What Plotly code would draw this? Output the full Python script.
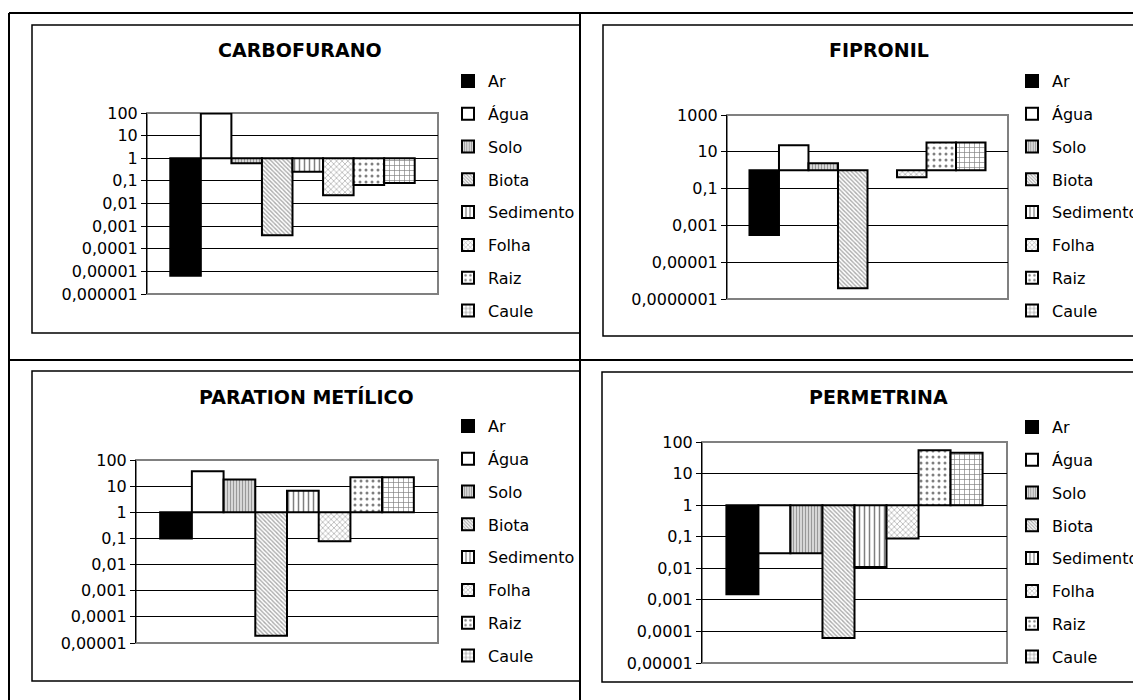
import plotly.graph_objects as go

# Compartimentos ambientais (séries) e concentrações relativas
compartimentos = ["Ar", "Água", "Solo", "Biota", "Sedimento", "Folha", "Raiz", "Caule"]

carbofurano = [6.4e-6, 95, 0.6, 4e-4, 0.25, 0.023, 0.065, 0.08]
fipronil = [3e-4, 23, 2.4, 3.8e-7, None, 0.42, 32, 32]
paration = [0.1, 37, 18, 1.9e-5, 6.6, 0.078, 22, 22]
permetrina = [1.5e-3, 0.03, 0.03, 6.2e-5, 0.011, 0.088, 55, 46]

titulos = ["CARBOFURANO", "FIPRONIL", "PARATION METÍLICO", "PERMETRINA"]

ticks_carbofurano = [100, 10, 1, 0.1, 0.01, 0.001, 0.0001, 0.00001, 0.000001]
labels_carbofurano = ["100", "10", "1", "0,1", "0,01", "0,001", "0,0001", "0,00001", "0,000001"]
ticks_fipronil = [1000, 10, 0.1, 0.001, 0.00001, 0.0000001]
labels_fipronil = ["1000", "10", "0,1", "0,001", "0,00001", "0,0000001"]
ticks_paration = [100, 10, 1, 0.1, 0.01, 0.001, 0.0001, 0.00001]
labels_paration = ["100", "10", "1", "0,1", "0,01", "0,001", "0,0001", "0,00001"]
ticks_permetrina = [100, 10, 1, 0.1, 0.01, 0.001, 0.0001, 0.00001]
labels_permetrina = ["100", "10", "1", "0,1", "0,01", "0,001", "0,0001", "0,00001"]

# a página html tem margem de 8px no body; a figura ocupa o resto da janela 1141x700
OFF = 8
W, H = 1141 - OFF, 700 - OFF
FONT = "DejaVu Sans"


def fx(p):
    return (p - OFF) / W


def fy(p):
    return 1 - (p - OFF) / H


# preenchimentos em preto e branco, como no Excel
padroes = [
    dict(color="black", pattern=None),
    dict(color="white", pattern=None),
    dict(color="white", pattern=dict(shape="|", size=3, solidity=0.6, fgcolor="#333333", bgcolor="white")),
    dict(color="white", pattern=dict(shape="\\", size=3, solidity=0.45, fgcolor="#555555", bgcolor="white")),
    dict(color="white", pattern=dict(shape="|", size=5, solidity=0.3, fgcolor="black", bgcolor="white")),
    dict(color="white", pattern=dict(shape="x", size=4, solidity=0.3, fgcolor="#444444", bgcolor="white")),
    dict(color="white", pattern=dict(shape=".", size=6, solidity=0.2, fgcolor="black", bgcolor="white")),
    dict(color="white", pattern=dict(shape="+", size=5, solidity=0.25, fgcolor="black", bgcolor="white")),
]

# (dados, ticks, rótulos, faixa log, domínio x em px, domínio y em px, legenda x/y em px, título x/y em px)
paineis = [
    (carbofurano, ticks_carbofurano, labels_carbofurano, [-6, 2], (147, 438), (113, 294), (448, 64), (300, 50)),
    (fipronil, ticks_fipronil, labels_fipronil, [-7, 3], (727, 1008), (115, 299), (1012, 64), (879, 50)),
    (paration, ticks_paration, labels_paration, [-5, 2], (136, 438), (460, 643), (448, 409), (306, 397)),
    (permetrina, ticks_permetrina, labels_permetrina, [-5, 2], (702, 1007), (442, 663), (1012, 410), (878, 397)),
]

fig = go.Figure()
layout = dict(annotations=[], shapes=[])

for k, (dados, tv, tt, faixa, dx, dy, leg, tit) in enumerate(paineis):
    n = k + 1
    sx = "" if n == 1 else str(n)
    legname = "legend" if n == 1 else f"legend{n}"
    for i, (nome, v) in enumerate(zip(compartimentos, dados)):
        base = None if v is None else min(v, 1)
        alt = None if v is None else abs(v - 1)
        marker = dict(color=padroes[i]["color"], line=dict(color="black", width=2))
        if padroes[i]["pattern"]:
            marker["pattern"] = padroes[i]["pattern"]
        fig.add_trace(go.Bar(
            x=[titulos[k]], y=[alt], base=[base], name=nome, marker=marker,
            xaxis="x" + sx, yaxis="y" + sx, legend=legname,
            legendgroup=f"{n}-{nome}", showlegend=True,
        ))
    layout["xaxis" + sx] = dict(
        domain=[fx(dx[0]), fx(dx[1])], anchor="y" + sx, type="category",
        showticklabels=False, showgrid=False, showline=False, zeroline=False, fixedrange=True,
    )
    layout["yaxis" + sx] = dict(
        domain=[fy(dy[1]), fy(dy[0])], anchor="x" + sx, type="log", range=faixa,
        tickvals=tv, ticktext=tt, showgrid=True, gridcolor="black", gridwidth=1,
        showline=True, linecolor="black", linewidth=1, ticks="outside", ticklen=5,
        tickcolor="black", tickfont=dict(family=FONT, size=16, color="black"), zeroline=False,
    )
    layout[legname] = dict(
        x=fx(leg[0]), y=fy(leg[1]), xanchor="left", yanchor="top",
        font=dict(family=FONT, size=16, color="black"), bgcolor="rgba(0,0,0,0)",
        traceorder="grouped", tracegroupgap=9, itemclick=False,
    )
    layout["annotations"].append(dict(
        text=f"<b>{titulos[k]}</b>", x=fx(tit[0]), y=fy(tit[1]), xref="paper", yref="paper",
        showarrow=False, font=dict(family=FONT, size=19, color="black"),
        xanchor="center", yanchor="middle",
    ))
    # moldura cinza da área de plotagem
    layout["shapes"].append(dict(
        type="rect", xref="x" + sx + " domain", yref="y" + sx + " domain", x0=0, x1=1, y0=0, y1=1,
        line=dict(color="#808080", width=2), layer="below",
    ))

# caixas dos gráficos
caixas = [(32, 25, 580, 333), (603, 25, 1150, 336), (32, 371, 580, 681), (602, 372, 1150, 682)]
for x0, y0, x1, y1 in caixas:
    layout["shapes"].append(dict(
        type="rect", xref="paper", yref="paper", x0=fx(x0), x1=fx(x1), y0=fy(y1), y1=fy(y0),
        line=dict(color="black", width=1.5), layer="below",
    ))

# linhas da tabela
linhas = [(9, 13, 1150, 13), (9, 13, 9, 710), (580, 13, 580, 710), (9, 360, 1150, 360)]
for x0, y0, x1, y1 in linhas:
    layout["shapes"].append(dict(
        type="line", xref="paper", yref="paper", x0=fx(x0), x1=fx(x1), y0=fy(y0), y1=fy(y1),
        line=dict(color="black", width=2), layer="above",
    ))

fig.update_layout(
    width=W, height=H, margin=dict(l=0, r=0, t=0, b=0, autoexpand=False),
    paper_bgcolor="white", plot_bgcolor="white",
    barmode="group", bargap=0.16, bargroupgap=0,
    showlegend=True, font=dict(family=FONT, color="black"),
    **layout,
)

fig.write_html("out.html")
